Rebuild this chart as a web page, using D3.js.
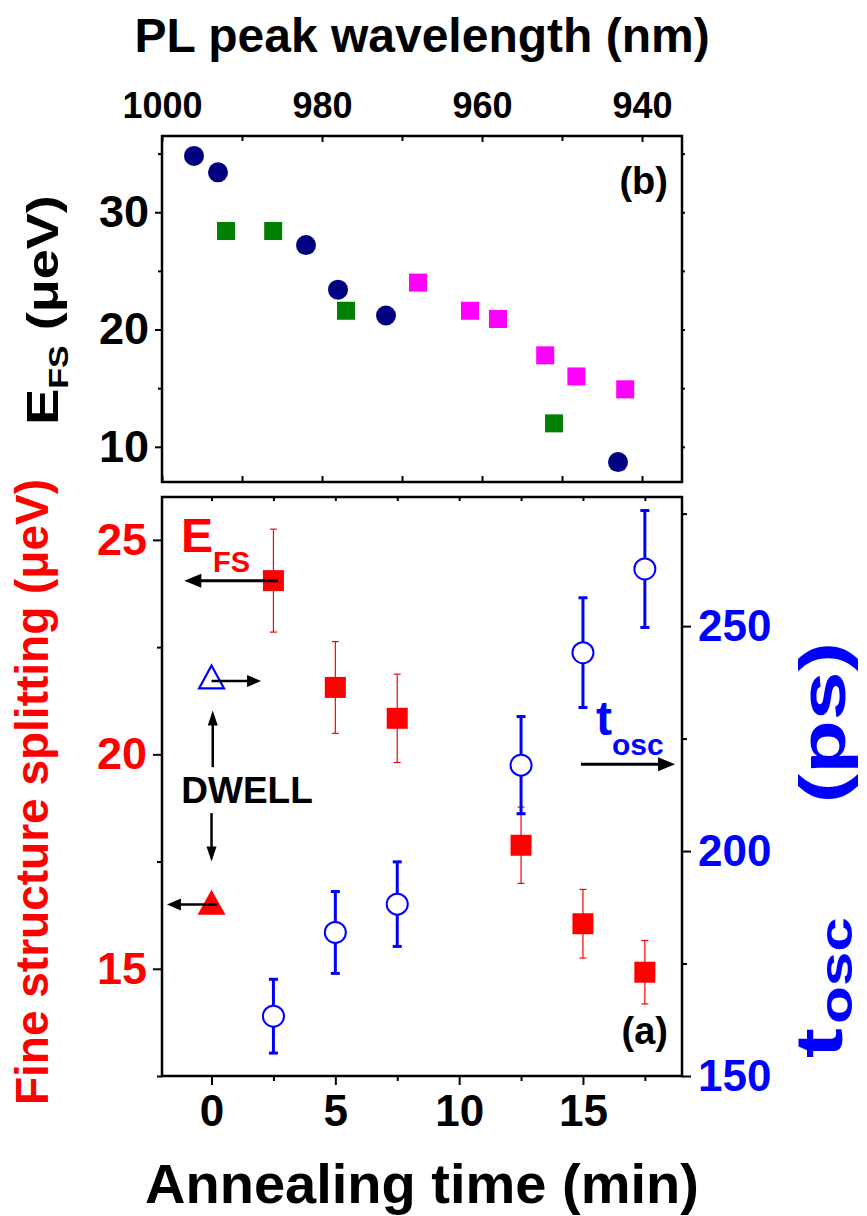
<!DOCTYPE html>
<html><head><meta charset="utf-8">
<script src="https://cdn.jsdelivr.net/npm/d3@7"></script>
<style>body{margin:0;background:#fff} svg{display:block}</style>
</head><body><svg id="c" width="867" height="1216"></svg>
<script>
// ---- data ----
const wlNavy = [996.0, 993.0, 982.0, 978.0, 972.0, 943.0];
const efsNavy = [34.8, 33.4, 27.2, 23.4, 21.2, 8.7];
const wlGreen = [992.0, 986.1, 977.0, 951.0];
const efsGreen = [28.4, 28.4, 21.6, 12.0];
const wlMagenta = [968.0, 961.5, 958.0, 952.1, 948.2, 942.1];
const efsMagenta = [24.0, 21.6, 20.9, 17.8, 16.0, 14.9];

const annealTime = [2.5, 5, 7.5, 12.5, 15, 17.5];
const efsAnneal = [24.05, 21.56, 20.84, 17.88, 16.05, 14.92];
const efsErr = [1.2, 1.07, 1.03, 0.89, 0.8, 0.74];
const toscAnneal = [163.3, 181.9, 188.2, 219.1, 244.1, 262.7];
const toscErr = [8.2, 9.1, 9.4, 10.8, 12.2, 13.0];
const dwellTime = [0];
const efsDwell = [16.55];
const toscDwell = [238.7];

const wlTicks = [1000, 980, 960, 940], wlMinor = [990, 970, 950];
const efsTopTicks = [10, 20, 30], efsTopMinor = [15, 25, 35];
const timeTicks = [0, 5, 10, 15], timeMinor = [2.5, 7.5, 12.5, 17.5];
const efsTicks = [15, 20, 25], efsMinor = [12.5, 17.5, 22.5];
const toscTicks = [150, 200, 250], toscMinor = [175, 225, 275];

const FONT = "'Liberation Sans', Arial, Helvetica, sans-serif";
const NAVY = "#000080", GREEN = "#008000", MAG = "#ff00ff", RED = "#ff0000", BLUE = "#0000ff";

const svg = d3.select("#c").attr("font-family", FONT).attr("font-weight", "bold");

// ---- scales ----
const L = 162, R = 682;
const xW = d3.scaleLinear().domain([1000, 935]).range([L, R]);
const yT = d3.scaleLinear().domain([7.0, 36.5]).range([482, 136]);
const xA = d3.scaleLinear().domain([-2, 19]).range([L, R]);
const yL = d3.scaleLinear().domain([12.5, 26]).range([1076, 497]);
const yR = d3.scaleLinear().domain([150, 278.7]).range([1076, 497]);

function drawAxis(gen, tx, ty, opts) {
  const g = svg.append("g").attr("transform", `translate(${tx},${ty})`).call(gen);
  g.select(".domain").remove();
  g.selectAll(".tick line").attr("stroke", "#000").attr("stroke-width", 2);
  g.selectAll(".tick text").attr("font-family", FONT).attr("font-weight", "bold")
    .attr("font-size", opts.size || 40).attr("fill", opts.color || "#000");
  return g;
}
const none = () => "";

// ---- top panel (b) ----
drawAxis(d3.axisTop(xW).tickValues(wlTicks).tickSize(-6).tickPadding(18).tickFormat(d3.format("d")), 0, 136, {size: 36});
drawAxis(d3.axisTop(xW).tickValues(wlMinor).tickSize(-5).tickFormat(none), 0, 136, {});
drawAxis(d3.axisBottom(xW).tickValues(wlTicks.concat(wlMinor)).tickSize(-6).tickFormat(none), 0, 482, {});
drawAxis(d3.axisLeft(yT).tickValues(efsTopTicks).tickSize(7).tickPadding(6).tickFormat(d3.format("d")), L, 0, {size: 45});
drawAxis(d3.axisLeft(yT).tickValues(efsTopMinor).tickSize(4).tickFormat(none), L, 0, {});
drawAxis(d3.axisRight(yT).tickValues(efsTopTicks.concat(efsTopMinor)).tickSize(3).tickFormat(none), R, 0, {});
svg.append("rect").attr("x", L).attr("y", 136).attr("width", R - L).attr("height", 482 - 136)
  .attr("fill", "none").attr("stroke", "#000").attr("stroke-width", 2.5);

svg.append("g").selectAll("circle").data(wlNavy).join("circle")
  .attr("cx", d => xW(d)).attr("cy", (d, i) => yT(efsNavy[i])).attr("r", 10).attr("fill", NAVY);
const sqT = 18;
svg.append("g").selectAll("rect").data(wlGreen).join("rect")
  .attr("x", d => xW(d) - sqT / 2).attr("y", (d, i) => yT(efsGreen[i]) - sqT / 2)
  .attr("width", sqT).attr("height", sqT).attr("fill", GREEN);
svg.append("g").selectAll("rect").data(wlMagenta).join("rect")
  .attr("x", d => xW(d) - sqT / 2).attr("y", (d, i) => yT(efsMagenta[i]) - sqT / 2)
  .attr("width", sqT).attr("height", sqT).attr("fill", MAG);

svg.append("text").attr("x", 668).attr("y", 194).attr("text-anchor", "end").attr("font-size", 38).text("(b)");

// ---- bottom panel (a) ----
drawAxis(d3.axisBottom(xA).tickValues(timeTicks).tickSize(9).tickPadding(10).tickFormat(d3.format("d")), 0, 1076, {size: 44});
drawAxis(d3.axisBottom(xA).tickValues(timeMinor).tickSize(5).tickFormat(none), 0, 1076, {});
drawAxis(d3.axisTop(xA).tickValues(timeTicks.concat(timeMinor)).tickSize(-4).tickFormat(none), 0, 497, {});
drawAxis(d3.axisLeft(yL).tickValues(efsTicks).tickSize(9).tickPadding(6).tickFormat(d3.format("d")), L, 0, {size: 45, color: RED});
drawAxis(d3.axisLeft(yL).tickValues(efsMinor).tickSize(5).tickFormat(none), L, 0, {});
drawAxis(d3.axisRight(yR).tickValues(toscTicks).tickSize(9).tickPadding(7).tickFormat(d3.format("d")), R, 0, {size: 44, color: BLUE});
drawAxis(d3.axisRight(yR).tickValues(toscMinor).tickSize(5).tickFormat(none), R, 0, {});
svg.append("rect").attr("x", L).attr("y", 497).attr("width", R - L).attr("height", 1076 - 497)
  .attr("fill", "none").attr("stroke", "#000").attr("stroke-width", 2.5);

function errBars(xs, ys, es, xs_, ys_, color, lw, cap) {
  const g = svg.append("g").attr("stroke", color).attr("stroke-width", lw);
  xs.forEach((x, i) => {
    const px = xs_(x), y1 = ys_(ys[i] + es[i]), y2 = ys_(ys[i] - es[i]);
    g.append("line").attr("x1", px).attr("x2", px).attr("y1", y1).attr("y2", y2);
    g.append("line").attr("x1", px - cap).attr("x2", px + cap).attr("y1", y1).attr("y2", y1);
    g.append("line").attr("x1", px - cap).attr("x2", px + cap).attr("y1", y2).attr("y2", y2);
  });
}
errBars(annealTime, efsAnneal, efsErr, xA, yL, RED, 1.2, 3.5);
errBars(annealTime, toscAnneal, toscErr, xA, yR, BLUE, 3, 4.5);

const sqB = 21;
svg.append("g").selectAll("rect").data(annealTime).join("rect")
  .attr("x", d => xA(d) - sqB / 2).attr("y", (d, i) => yL(efsAnneal[i]) - sqB / 2)
  .attr("width", sqB).attr("height", sqB).attr("fill", RED);
svg.append("g").selectAll("circle").data(annealTime).join("circle")
  .attr("cx", d => xA(d)).attr("cy", (d, i) => yR(toscAnneal[i])).attr("r", 10.5)
  .attr("fill", "#fff").attr("stroke", BLUE).attr("stroke-width", 2);

function tri(cx, cy, w, h) {
  return `M${cx - w / 2},${cy + h / 2}L${cx + w / 2},${cy + h / 2}L${cx},${cy - h / 2}Z`;
}
svg.append("g").selectAll("path").data(dwellTime).join("path")
  .attr("d", (d, i) => tri(xA(d), yL(efsDwell[i]), 28, 25)).attr("fill", RED);
svg.append("g").selectAll("path").data(dwellTime).join("path")
  .attr("d", (d, i) => tri(xA(d), yR(toscDwell[i]), 25, 23)).attr("fill", "none")
  .attr("stroke", BLUE).attr("stroke-width", 2.2);

// arrows
function arrow(x1, y1, x2, y2, lw, hl, hw) {
  const a = Math.atan2(y2 - y1, x2 - x1), c = Math.cos(a), s = Math.sin(a);
  const bx = x2 - hl * c, by = y2 - hl * s;
  svg.append("line").attr("x1", x1).attr("y1", y1).attr("x2", bx + c).attr("y2", by + s)
    .attr("stroke", "#000").attr("stroke-width", lw);
  svg.append("path").attr("d", `M${x2},${y2}L${bx - hw * s},${by + hw * c}L${bx + hw * s},${by - hw * c}Z`).attr("fill", "#000");
}
arrow(xA(2.68), yL(24.05), xA(-1.1), yL(24.05), 3, 17, 7);
arrow(xA(0), yR(237.8), xA(2.0), yR(237.8), 2.5, 14, 6);
arrow(xA(0.05), yL(19.7), xA(0.05), yL(21.02), 2.5, 15, 5);
arrow(xA(0.0), yL(18.63), xA(0.0), yL(17.5), 2.5, 15, 5);
arrow(xA(0.22), yL(16.5), xA(-1.8), yL(16.5), 2.5, 14, 6);
arrow(xA(14.92), yR(219.3), xA(18.72), yR(219.3), 3, 17, 7);

// annotation text
const efsLab = svg.append("text").attr("x", 181).attr("y", 552).attr("fill", RED).attr("font-size", 48);
efsLab.append("tspan").text("E");
efsLab.append("tspan").attr("font-size", 29).attr("dy", 20).text("FS");
const toscLab = svg.append("text").attr("x", 596).attr("y", 735).attr("fill", BLUE).attr("font-size", 48);
toscLab.append("tspan").text("t");
toscLab.append("tspan").attr("font-size", 30).attr("dy", 20).text("osc");
svg.append("text").attr("x", 247).attr("y", 803).attr("text-anchor", "middle").attr("font-size", 37).text("DWELL");
svg.append("text").attr("x", 668).attr("y", 1044).attr("text-anchor", "end").attr("font-size", 38).text("(a)");

// axis titles
svg.append("text").attr("x", 422).attr("y", 52).attr("text-anchor", "middle").attr("font-size", 48).text("PL peak wavelength (nm)");
svg.append("text").attr("x", 422).attr("y", 1203).attr("text-anchor", "middle").attr("font-size", 56).text("Annealing time (min)");

const t1 = svg.append("text").attr("transform", "translate(58,310) rotate(-90) scale(1,0.82)").attr("text-anchor", "middle").attr("font-size", 54);
t1.append("tspan").text("E");
t1.append("tspan").attr("font-size", 34).attr("dy", 12).text("FS");
t1.append("tspan").attr("dy", -12).text(" (μeV)");

svg.append("text").attr("transform", "translate(48,792) rotate(-90)").attr("text-anchor", "middle")
  .attr("font-size", 46).attr("fill", RED).text("Fine structure splitting (μeV)");

const t3 = svg.append("text").attr("transform", "translate(842,1058) rotate(-90) scale(1,0.74)").attr("text-anchor", "start")
  .attr("font-size", 90).attr("fill", BLUE);
t3.append("tspan").text("t");
t3.append("tspan").attr("font-size", 62).attr("dy", 14).attr("dx", 4).text("osc");
svg.append("text").attr("transform", "translate(845,642) rotate(-90) scale(1,0.74)").attr("text-anchor", "end")
  .attr("font-size", 88).attr("fill", BLUE).text("(ps)");
</script></body></html>
